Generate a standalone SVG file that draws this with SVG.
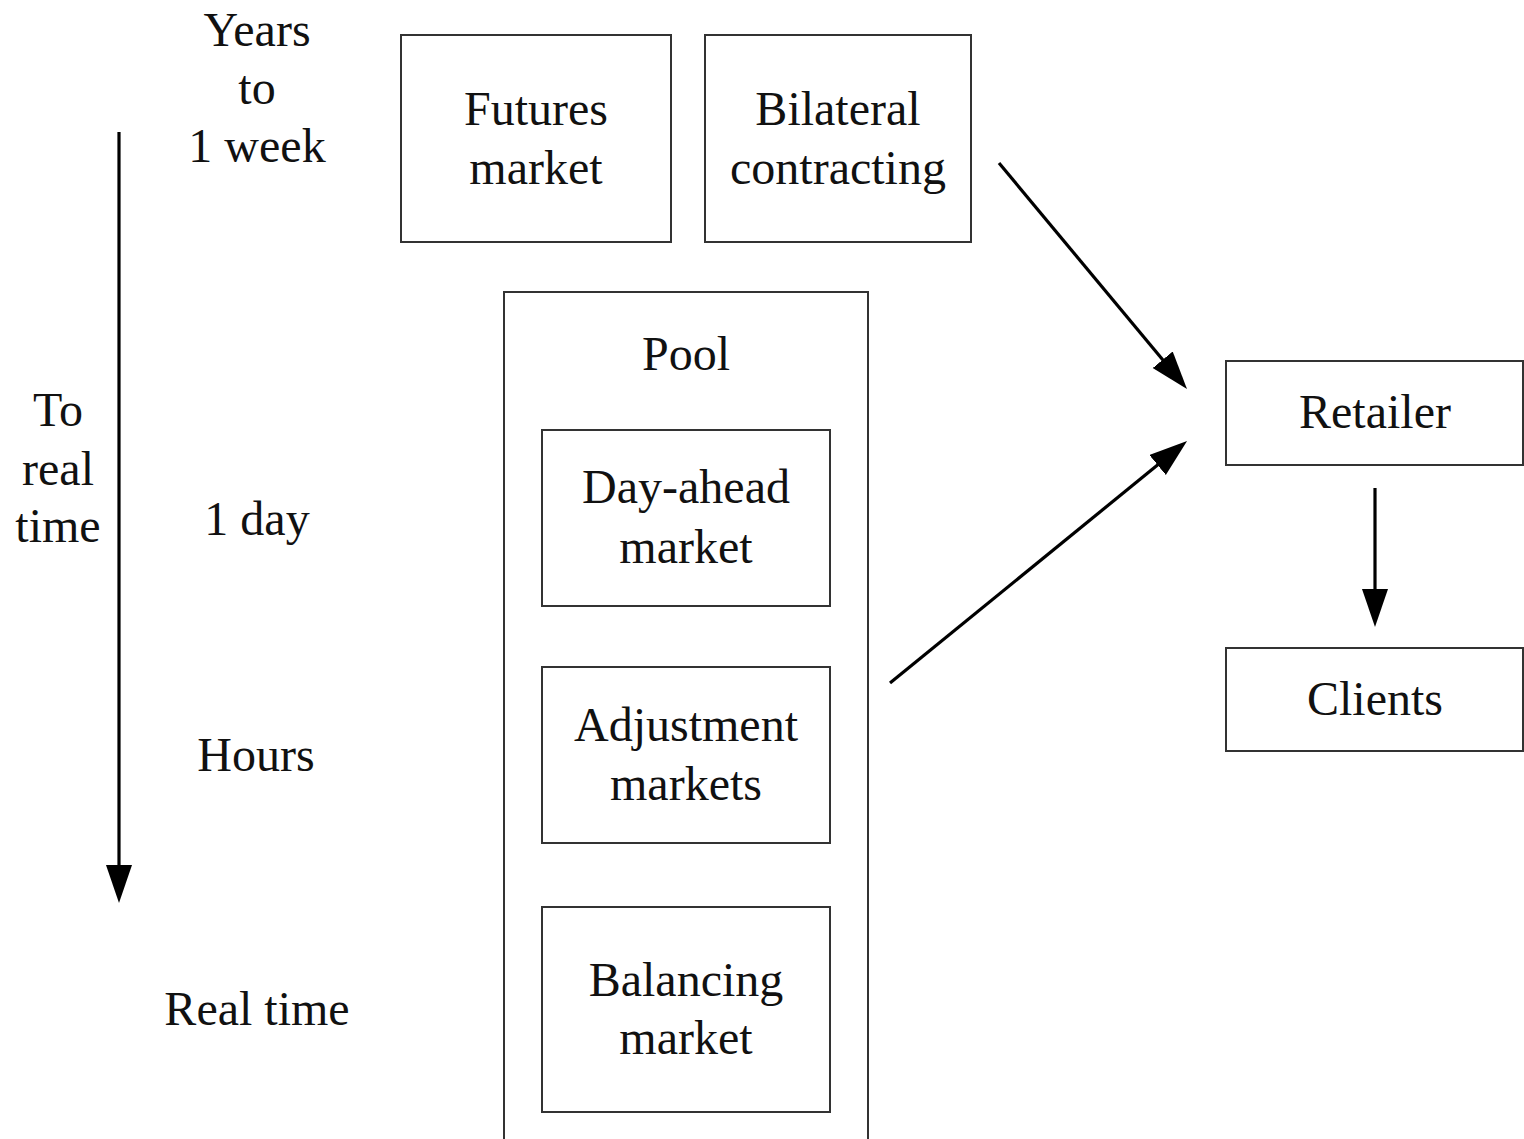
<svg xmlns="http://www.w3.org/2000/svg" width="1524" height="1139" viewBox="0 0 1524 1139">
<defs>
<marker id="ah" markerUnits="userSpaceOnUse" markerWidth="40" markerHeight="28" refX="28" refY="13" orient="auto">
<path d="M0,0 L38,13 L0,26 z" fill="#000"/>
</marker>
<style>
.box{fill:#fff;stroke:#333;stroke-width:2}
.t{font-family:"Liberation Serif","Times New Roman",serif;font-size:48px;fill:#111;text-anchor:middle}
.c{stroke:#000;stroke-width:3.2;fill:none;marker-end:url(#ah)}
</style>
</defs>
<rect width="1524" height="1139" fill="#fff"/>
<g id="labels">
<text class="t" x="257" y="46">Years</text>
<text class="t" x="257" y="104">to</text>
<text class="t" x="257" y="162">1 week</text>
<text class="t" x="58" y="426">To</text>
<text class="t" x="58" y="485">real</text>
<text class="t" x="58" y="542">time</text>
<text class="t" x="257" y="535">1 day</text>
<text class="t" x="256" y="771">Hours</text>
<text class="t" x="257" y="1025">Real time</text>
</g>
<g id="futures">
<rect class="box" x="401" y="35" width="270" height="207"/>
<text class="t" x="536" y="125">Futures</text>
<text class="t" x="536" y="184">market</text>
</g>
<g id="bilateral">
<rect class="box" x="705" y="35" width="266" height="207"/>
<text class="t" x="838" y="125">Bilateral</text>
<text class="t" x="838" y="184">contracting</text>
</g>
<g id="pool">
<rect class="box" x="504" y="292" width="364" height="870"/>
<text class="t" x="686" y="370">Pool</text>
</g>
<g id="dayahead">
<rect class="box" x="542" y="430" width="288" height="176"/>
<text class="t" x="686" y="503">Day-ahead</text>
<text class="t" x="686" y="563">market</text>
</g>
<g id="adjustment">
<rect class="box" x="542" y="667" width="288" height="176"/>
<text class="t" x="686" y="741">Adjustment</text>
<text class="t" x="686" y="800">markets</text>
</g>
<g id="balancing">
<rect class="box" x="542" y="907" width="288" height="205"/>
<text class="t" x="686" y="996">Balancing</text>
<text class="t" x="686" y="1054">market</text>
</g>
<g id="retailer">
<rect class="box" x="1226" y="361" width="297" height="104"/>
<text class="t" x="1375" y="428">Retailer</text>
</g>
<g id="clients">
<rect class="box" x="1226" y="648" width="297" height="103"/>
<text class="t" x="1375" y="715">Clients</text>
</g>
<g id="connectors">
<path class="c" d="M119,132 L119,893"/>
<path class="c" d="M999,163 L1180.6,381.3"/>
<path class="c" d="M890,683 L1179.3,447.3"/>
<path class="c" d="M1375,488 L1375,617"/>
</g>
</svg>
